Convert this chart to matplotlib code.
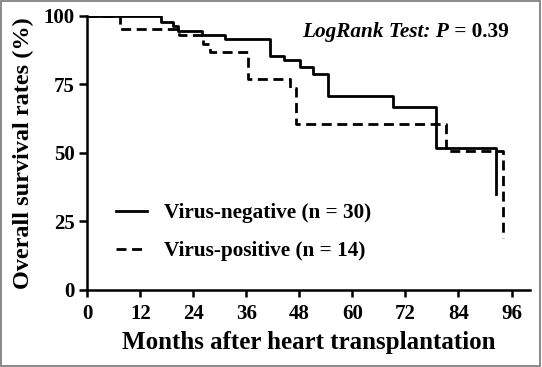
import matplotlib
matplotlib.use("Agg")
import matplotlib.pyplot as plt
from matplotlib.patches import Rectangle

# Kaplan-Meier steps (months, % surviving)
months_neg = [0, 16.7, 19.3, 20.6, 25.9, 31.2, 41.3, 44.5, 48.1, 51.1, 54.4, 69.1, 78.9, 92.5]
surv_neg = [100, 97.7, 96.1, 94.5, 93.1, 91.5, 85.4, 83.7, 81.2, 78.9, 70.9, 66.9, 51.9, 35.0]

months_pos = [0, 7.3, 20.8, 26.2, 27.8, 36.4, 45.9, 47.2, 81.2, 94.0]
surv_pos = [100, 95.2, 93.0, 89.8, 86.7, 77.0, 73.8, 60.5, 50.5, 19.0]

labels = ["Virus-negative (n = 30)", "Virus-positive (n = 14)"]
xticks = [0, 12, 24, 36, 48, 60, 72, 84, 96]
yticks = [0, 25, 50, 75, 100]

plt.rcParams["font.family"] = "Liberation Serif"
plt.rcParams["font.weight"] = "bold"

fig = plt.figure(figsize=(5.42, 3.67), dpi=100)
ax = fig.add_axes([0.161, 0.21, 0.817, 0.747])

ax.step(months_neg, surv_neg, where="post", color="black", lw=2.0, label=labels[0])
ax.step(months_pos, surv_pos, where="post", color="black", lw=2.0,
        linestyle=(0, (3.6, 2.0)), label=labels[1])

ax.set_xlim(0, 100.2)
ax.set_ylim(0, 100)
ax.set_xticks(xticks)
ax.set_yticks(yticks)
ax.spines["top"].set_visible(False)
ax.spines["right"].set_visible(False)
for s in ["left", "bottom"]:
    ax.spines[s].set_linewidth(1.8)
ax.tick_params(axis="both", width=1.8, labelsize=15)
ax.tick_params(axis="y", length=6, pad=3)
ax.tick_params(axis="x", length=5, pad=5)

ax.set_xlabel("Months after heart transplantation", fontsize=18, fontweight="bold", labelpad=5)
ax.set_ylabel("Overall survival rates (%)", fontsize=17.5, fontweight="bold", labelpad=7)

t1 = ax.text(48.6, 92.3, "LogRank Test: P", fontsize=15.3, fontweight="bold",
             fontstyle="italic", va="baseline")
ax.annotate(" = 0.39", xy=(1, 0), xycoords=t1, fontsize=15.3, fontweight="bold",
            va="bottom")

ax.legend(loc="lower left", bbox_to_anchor=(0.022, 0.035), frameon=False, fontsize=15.3,
          handlelength=1.45, handletextpad=0.8, labelspacing=0.85)

fig.patches.append(Rectangle((0.002, 0.003), 0.995, 0.994, transform=fig.transFigure,
                             fill=False, edgecolor="#777777", lw=1.2))

fig.savefig("out.png", dpi=100)
